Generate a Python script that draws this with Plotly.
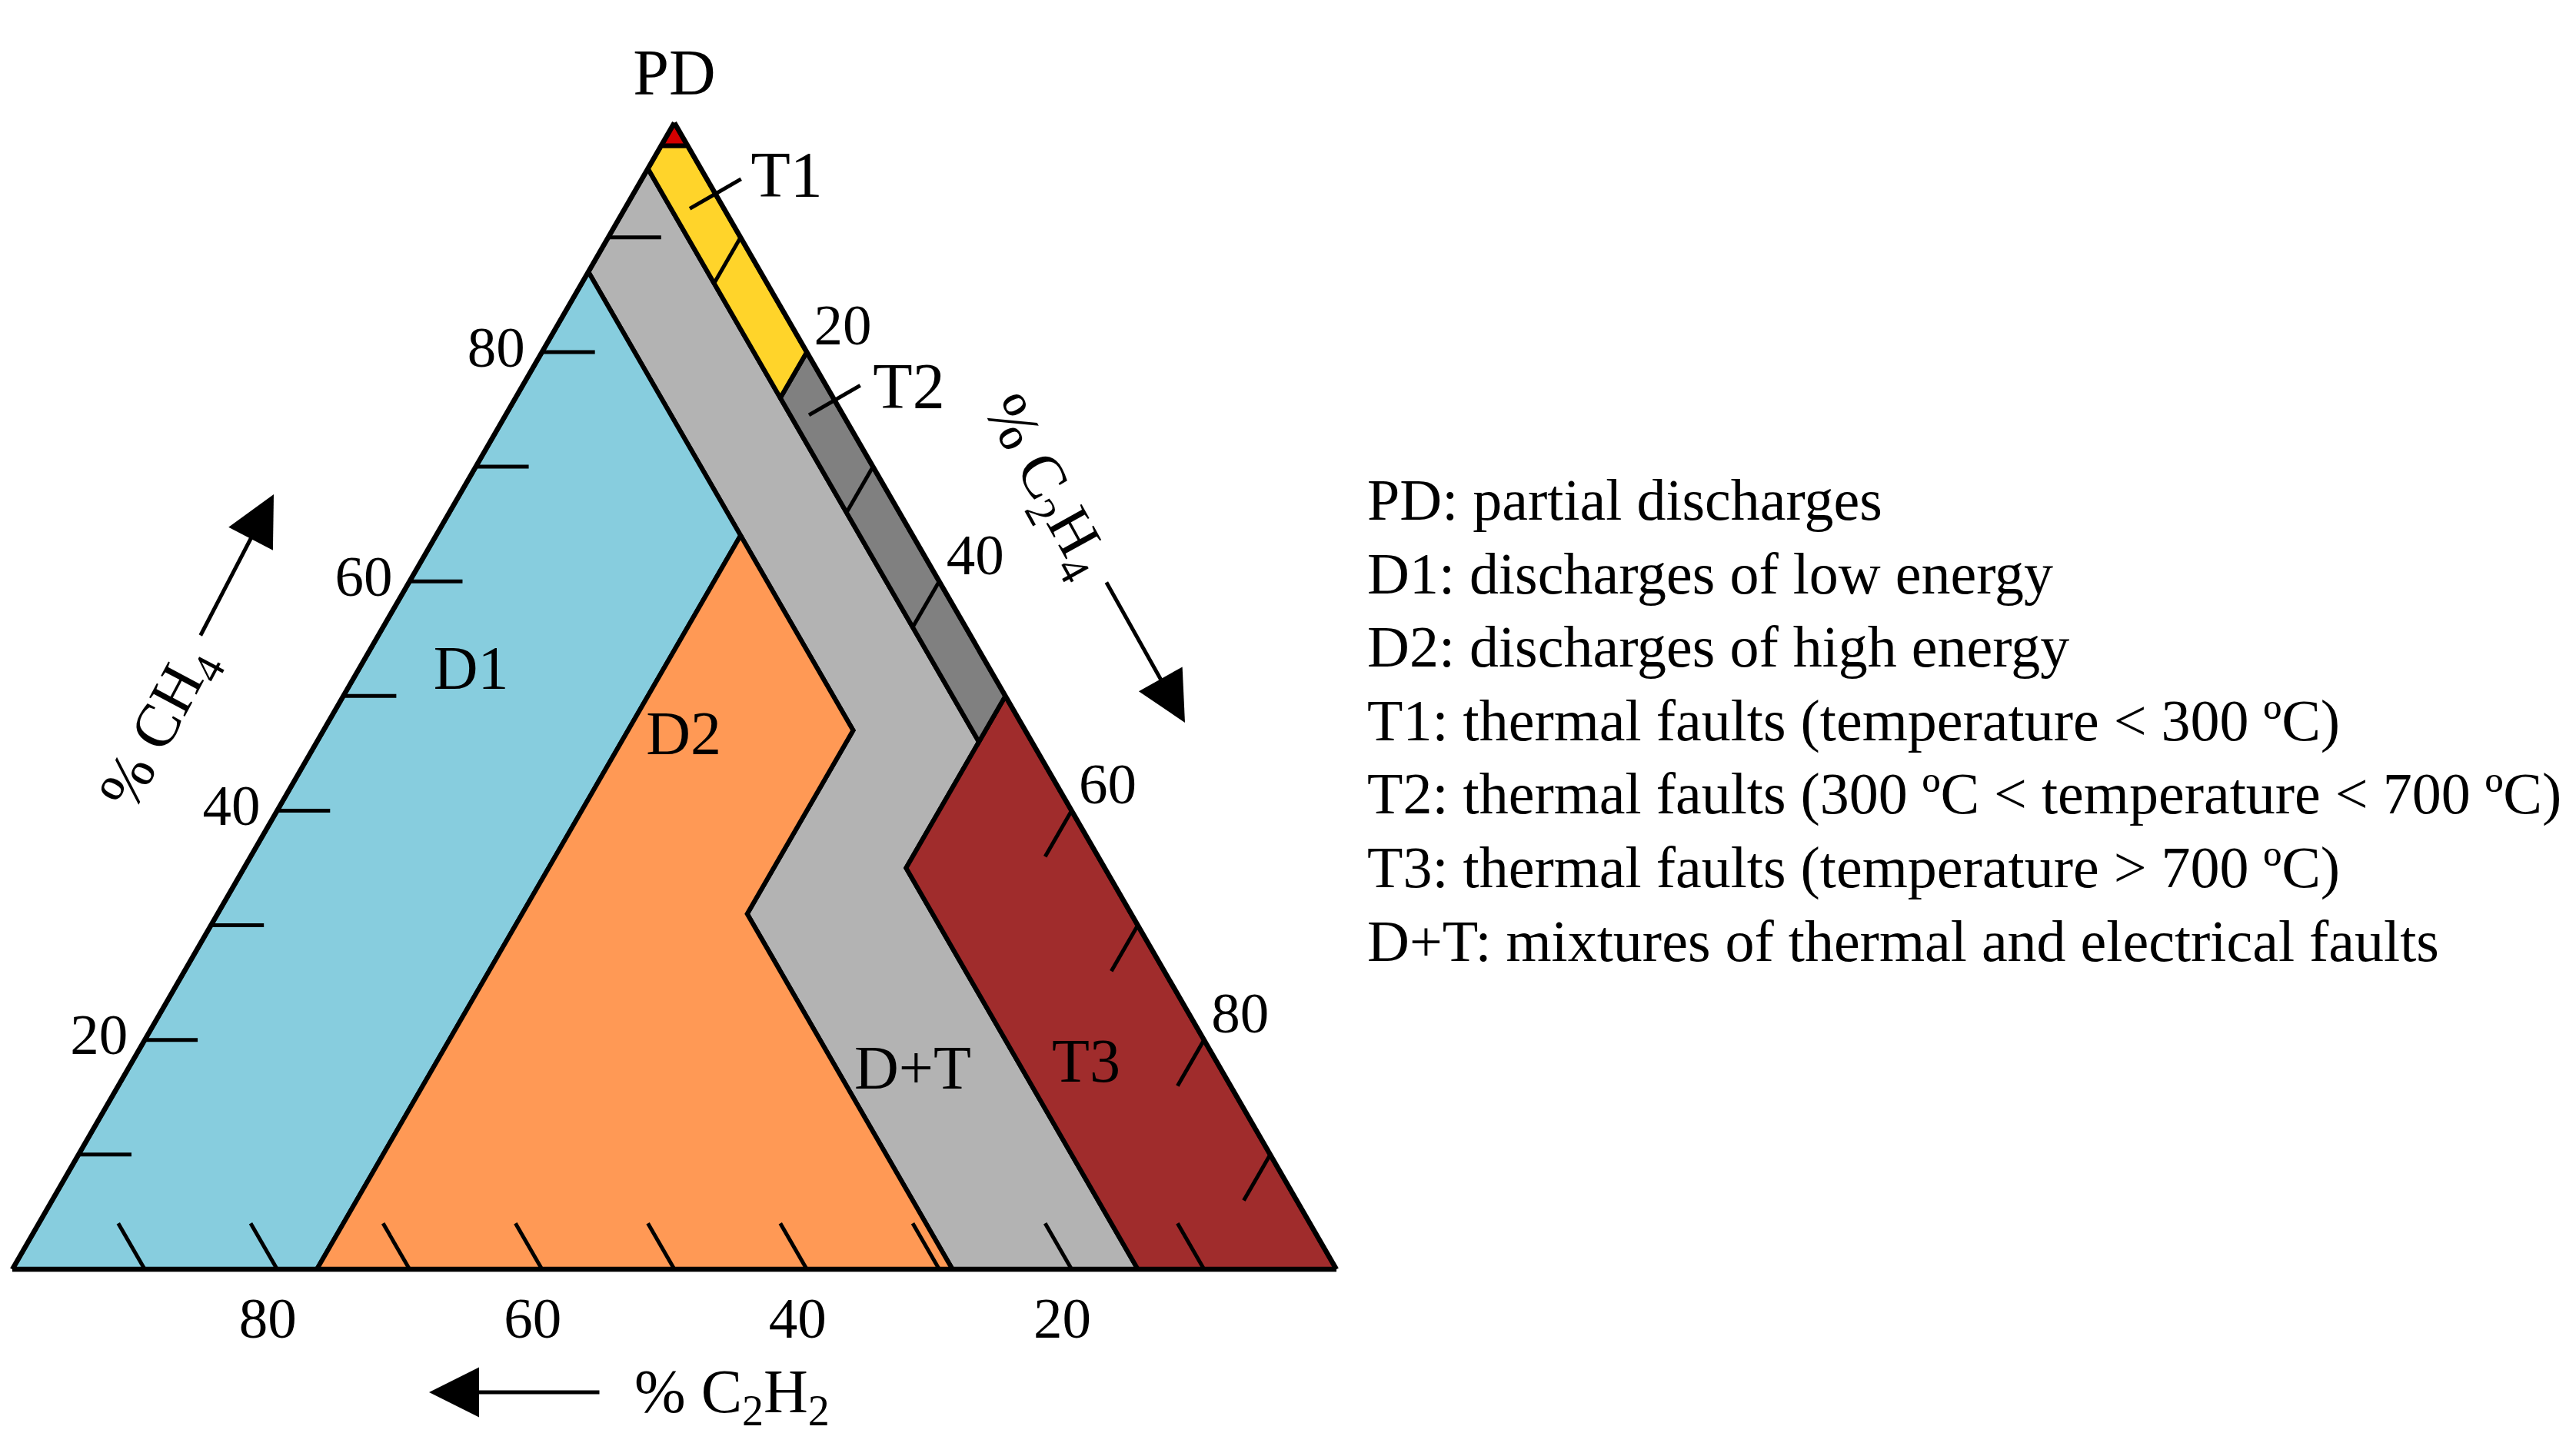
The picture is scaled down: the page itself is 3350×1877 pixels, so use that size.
import math
import plotly.graph_objects as go

# ---------------------------------------------------------------- data
# Duval triangle zones, vertices given as (CH4 %, C2H4 %, C2H2 %)
ZONE_PD = [(100, 0, 0), (98, 2, 0), (98, 0, 2)]
ZONE_T1 = [(98, 2, 0), (80, 20, 0), (76, 20, 4), (96, 0, 4), (98, 0, 2)]
ZONE_T2 = [(80, 20, 0), (50, 50, 0), (46, 50, 4), (76, 20, 4)]
ZONE_T3 = [(50, 50, 0), (0, 100, 0), (0, 85, 15), (35, 50, 15)]
ZONE_D1 = [(87, 0, 13), (0, 0, 100), (0, 23, 77), (64, 23, 13)]
ZONE_D2 = [(64, 23, 13), (0, 23, 77), (0, 71, 29), (31, 40, 29), (47, 40, 13)]
ZONE_DT = [(96, 0, 4), (87, 0, 13), (64, 23, 13), (47, 40, 13), (31, 40, 29),
           (0, 71, 29), (0, 85, 15), (35, 50, 15), (46, 50, 4), (76, 20, 4)]

ZONE_NAMES = ["D+T", "D1", "D2", "T3", "T2", "T1", "PD"]
ZONE_COLORS = ["#b3b3b3", "#87cdde", "#ff9955", "#a02c2c", "#808080", "#ffd42a", "#d40000"]

TICK_VALUES = [10, 20, 30, 40, 50, 60, 70, 80, 90]
TICK_LABEL_VALUES = [20, 40, 60, 80]

TITLE_CH4 = "% CH<sub>4</sub>"
TITLE_C2H4 = "% C<sub>2</sub>H<sub>4</sub>"
TITLE_C2H2 = "% C<sub>2</sub>H<sub>2</sub>"

LEGEND_LINES = [
    "PD: partial discharges",
    "D1: discharges of low energy",
    "D2: discharges of high energy",
    "T1: thermal faults (temperature &lt; 300 ºC)",
    "T2: thermal faults (300 ºC &lt; temperature &lt; 700 ºC)",
    "T3: thermal faults (temperature &gt; 700 ºC)",
    "D+T: mixtures of thermal and electrical faults",
]

# ---------------------------------------------------------------- layout constants
FIG_W, FIG_H = 3350, 1877
FONT = "Liberation Serif"
EDGE_W = 6.5
ZONE_LINE_W = 6
TICK_W = 5
TICK_LEN = 4          # in % units along the grid direction

# label anchor points in ternary units (CH4, C2H4, C2H2)
INNER_LABEL_POS = {"D1": (52.0, 8.65, 39.35), "D2": (46.3, 27.55, 26.15),
                   "D+T": (17.1, 59.45, 23.45), "T3": (17.7, 72.25, 10.05)}
T_LABEL_POS = {"T1": (94.94, 5.06, 0.0), "T2": (76.5, 23.5, 0.0)}
PD_LABEL_POS = (100.0, 0.0, 0.0)
LEADER_POS = [(93.8, 6.2, 0.0), (75.8, 24.2, 0.0)]

# triangle placement in pixels
TRI_LEFT, TRI_SIDE, TRI_BOTTOM = 8, 1722, 1643
tri_h = TRI_SIDE * math.sqrt(3) / 2
cx = TRI_LEFT + TRI_SIDE / 2
cy = TRI_BOTTOM - tri_h / 2
half_h = tri_h / 2 + 30
dom_x = [(cx - TRI_SIDE / 2) / FIG_W, (cx + TRI_SIDE / 2) / FIG_W]
dom_y = [1 - (cy + half_h) / FIG_H, 1 - (cy - half_h) / FIG_H]


def px(x):
    return x / FIG_W


def py(y):
    return 1 - y / FIG_H


def gap_size(r):
    """invisible marker size that pushes a text label r px away from its anchor"""
    return 1.6 * (r - 1)


fig = go.Figure()

# ---------------------------------------------------------------- zones
zones = [ZONE_DT, ZONE_D1, ZONE_D2, ZONE_T3, ZONE_T2, ZONE_T1, ZONE_PD]
for name, pts, col in zip(ZONE_NAMES, zones, ZONE_COLORS):
    closed = pts + [pts[0]]
    fig.add_trace(go.Scatterternary(
        a=[p[0] for p in closed], c=[p[1] for p in closed], b=[p[2] for p in closed],
        mode="lines", fill="toself", fillcolor=col,
        line=dict(color="black", width=ZONE_LINE_W),
        name=name, hoverinfo="skip", showlegend=False))

# ---------------------------------------------------------------- tick marks
ta, tb, tc = [], [], []
for v in TICK_VALUES:
    # CH4 side (left): horizontal marks
    ta += [v, v, None]; tb += [100 - v, 100 - v - TICK_LEN, None]; tc += [0, TICK_LEN, None]
    # C2H2 side (bottom)
    ta += [0, TICK_LEN, None]; tb += [v, v, None]; tc += [100 - v, 100 - v - TICK_LEN, None]
    # C2H4 side (right)
    ta += [100 - v, 100 - v - TICK_LEN, None]; tb += [0, TICK_LEN, None]; tc += [v, v, None]
fig.add_trace(go.Scatterternary(a=ta, b=tb, c=tc, mode="lines",
                                line=dict(color="black", width=TICK_W),
                                hoverinfo="skip", showlegend=False, connectgaps=False))

# ---------------------------------------------------------------- tick labels
tick_font = dict(family=FONT, size=75, color="black")
lab = [str(v) for v in TICK_LABEL_VALUES]
n = len(TICK_LABEL_VALUES)


def label_trace(a, b, c, text, pos, r, font):
    return go.Scatterternary(
        a=a, b=b, c=c, mode="markers+text", text=text, textposition=pos,
        textfont=font, cliponaxis=False, hoverinfo="skip", showlegend=False,
        marker=dict(size=gap_size(r), opacity=0, color="white"))


# CH4 (left side): labels to the left of the edge
fig.add_trace(label_trace([v for v in TICK_LABEL_VALUES], [100 - v for v in TICK_LABEL_VALUES],
                          [0] * n, lab, "middle left", 22, tick_font))
# C2H2 (bottom side): labels below the edge
fig.add_trace(label_trace([0] * n, [v + 0.7 for v in TICK_LABEL_VALUES],
                          [100 - v - 0.7 for v in TICK_LABEL_VALUES], lab, "bottom center", 32.5, tick_font))
# C2H4 (right side): labels to the right of the edge
fig.add_trace(label_trace([100 - v + 1.9 for v in TICK_LABEL_VALUES], [0] * n,
                          [v - 1.9 for v in TICK_LABEL_VALUES], lab, "middle right", 25.7, tick_font))

# ---------------------------------------------------------------- zone labels
inner = list(INNER_LABEL_POS.items())
fig.add_trace(go.Scatterternary(
    a=[p[0] for _, p in inner], c=[p[1] for _, p in inner], b=[p[2] for _, p in inner],
    mode="text", text=[k for k, _ in inner], textposition="middle center",
    textfont=dict(family=FONT, size=80, color="black"),
    hoverinfo="skip", showlegend=False))
big_font = dict(family=FONT, size=84, color="black")
tl = list(T_LABEL_POS.items())
fig.add_trace(label_trace([p[0] for _, p in tl], [p[2] for _, p in tl], [p[1] for _, p in tl],
                          [k for k, _ in tl], "middle right", 56, big_font))
fig.add_trace(label_trace([PD_LABEL_POS[0]], [PD_LABEL_POS[2]], [PD_LABEL_POS[1]],
                          ["PD"], "top center", 16, big_font))
# leader lines for T1 / T2 (perpendicular to the C2H4 side)
fig.add_trace(go.Scatterternary(
    a=[p[0] for p in LEADER_POS], c=[p[1] for p in LEADER_POS], b=[p[2] for p in LEADER_POS],
    mode="markers", cliponaxis=False, hoverinfo="skip", showlegend=False,
    marker=dict(symbol="line-ew", size=55, angle=-30, color="black",
                line=dict(color="black", width=5))))

# ---------------------------------------------------------------- axes
axis_common = dict(showgrid=False, showticklabels=False, ticks="", showline=True,
                   linecolor="black", linewidth=EDGE_W, title=dict(text=""), min=0)
fig.update_layout(
    width=FIG_W, height=FIG_H,
    margin=dict(l=0, r=0, t=0, b=0),
    paper_bgcolor="white", plot_bgcolor="white",
    font=dict(family=FONT, color="black"),
    showlegend=False, hovermode=False,
    ternary=dict(sum=100, bgcolor="white",
                 domain=dict(x=dom_x, y=dom_y),
                 aaxis=axis_common, baxis=axis_common, caxis=axis_common),
)

# ---------------------------------------------------------------- titles & arrows
title_font = dict(family=FONT, size=80, color="black")
ann = []
ann.append(dict(text=TITLE_CH4, x=px(200), y=py(940), xref="paper", yref="paper",
                showarrow=False, textangle=-62, font=title_font,
                xanchor="center", yanchor="middle"))
ann.append(dict(text=TITLE_C2H4, x=px(1350), y=py(625), xref="paper", yref="paper",
                showarrow=False, textangle=61, font=title_font,
                xanchor="center", yanchor="middle"))
ann.append(dict(text=TITLE_C2H2, x=px(944), y=py(1808), xref="paper", yref="paper",
                showarrow=False, font=title_font, xanchor="center", yanchor="middle"))
arrow_style = dict(text="", showarrow=True, arrowhead=2, arrowwidth=5, arrowsize=2.6,
                   arrowcolor="black", xref="paper", yref="paper", axref="pixel", ayref="pixel")
ann.append(dict(x=px(348), y=py(635), ax=-96, ay=185, **arrow_style))
ann.append(dict(x=px(1533), y=py(932), ax=-103, ay=-184, **arrow_style))
ann.append(dict(x=px(550), y=py(1803), ax=223, ay=0, **arrow_style))

# ---------------------------------------------------------------- legend text
leg_font = dict(family=FONT, size=76, color="black")
for i, line in enumerate(LEGEND_LINES):
    ann.append(dict(text=line, x=px(1768), y=py(642 + 95.7 * i), xref="paper", yref="paper",
                    showarrow=False, font=leg_font, xanchor="left", yanchor="middle",
                    align="left"))

fig.update_layout(annotations=ann)

fig.write_html("out.html")
